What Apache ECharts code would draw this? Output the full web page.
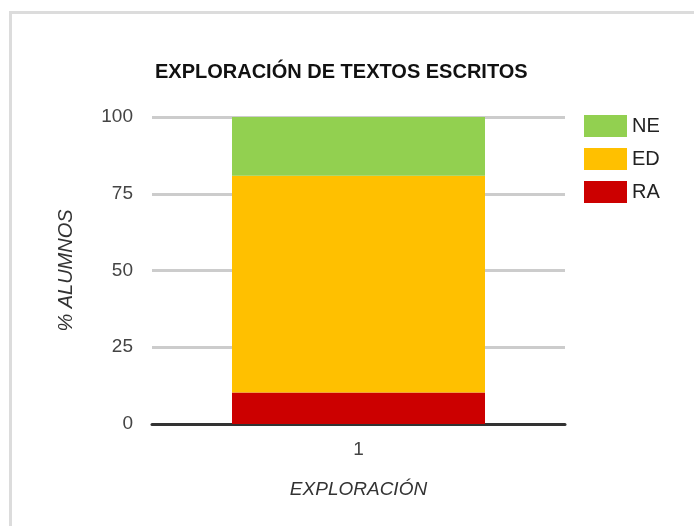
<!DOCTYPE html>
<html>
<head>
	<meta charset="UTF-8">
	<title>Exploración de textos escritos</title>
	<script src="https://cdn.jsdelivr.net/npm/echarts@6/dist/echarts.min.js"></script>
	<style>
		html, body { margin: 0; padding: 0; background: #fff; }
		#frame {
			position: absolute; left: 9px; top: 11px; width: 700px; height: 530px;
			border-top: 3px solid #dcdcdc; border-left: 3px solid #dcdcdc;
		}
		#chart { position: absolute; left: 0; top: 0; width: 694px; height: 526px; }
	</style>
</head>
<body>
	<div id="frame"></div>
	<div id="chart"></div>
	<script>
		// datos (% de alumnos)
		var categories = ["1"];
		var seriesNames = ["NE", "ED", "RA"];
		var valuesRA = [10.3];
		var valuesED = [70.6];
		var valuesNE = [19.1];
		var yTicks = [0, 25, 50, 75, 100];

		var font = "Liberation Sans, Arial, sans-serif";
		var myChart = echarts.init(document.getElementById('chart'));
		var option = {
			animation: false,
			textStyle: { fontFamily: font },
			title: {
				text: "EXPLORACIÓN DE TEXTOS ESCRITOS",
				left: 150, top: 57,
				textStyle: { fontSize: 20, fontWeight: 'bold', color: '#111', fontFamily: font }
			},
			legend: {
				data: seriesNames,
				orient: 'vertical',
				left: 579, top: 110,
				itemWidth: 43, itemHeight: 22, itemGap: 11,
				icon: 'rect',
				textStyle: { fontSize: 20, color: '#222' }
			},
			grid: { left: 152, right: 129, top: 117, bottom: 102 },
			xAxis: {
				type: 'category',
				data: categories,
				name: "EXPLORACIÓN",
				nameLocation: 'middle',
				nameGap: 56,
				nameTextStyle: { fontSize: 19, fontStyle: 'italic', color: '#333' },
				axisTick: { show: false },
				axisLine: { lineStyle: { color: '#333', width: 3 } },
				axisLabel: { fontSize: 19, color: '#444', margin: 16 }
			},
			yAxis: {
				type: 'value',
				min: yTicks[0], max: yTicks[yTicks.length - 1], interval: 25,
				name: "% ALUMNOS",
				nameLocation: 'middle',
				nameGap: 76,
				nameTextStyle: { fontSize: 20, fontStyle: 'italic', color: '#333' },
				axisLine: { show: false },
				axisTick: { show: false },
				axisLabel: { fontSize: 19, color: '#444', margin: 19 },
				splitLine: { lineStyle: { color: '#cccccc', width: 3 } }
			},
			series: [
				{ name: 'RA', type: 'bar', stack: 'total', data: valuesRA, barWidth: 253, itemStyle: { color: '#cc0000' } },
				{ name: 'ED', type: 'bar', stack: 'total', data: valuesED, barWidth: 253, itemStyle: { color: '#ffc000' } },
				{ name: 'NE', type: 'bar', stack: 'total', data: valuesNE, barWidth: 253, itemStyle: { color: '#92d050' } }
			]
		};
		myChart.setOption(option);
	</script>
</body>
</html>
